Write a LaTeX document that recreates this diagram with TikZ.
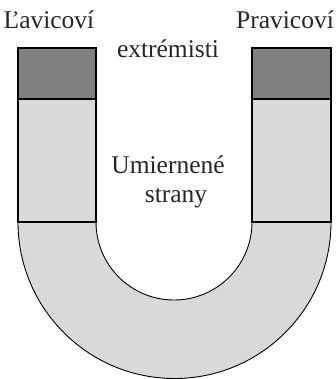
\documentclass[tikz,border=0pt]{standalone}
\usepackage{fontspec}
\setmainfont{Liberation Serif}
\begin{document}
\begin{tikzpicture}[x=1pt,y=-1pt,
  lbl/.style={anchor=base,inner sep=0pt,font=\fontsize{25.5}{30}\selectfont,text=black!85},
  darkbox/.style={fill=black!50,draw=black,line width=1.4pt},
  lightbox/.style={fill=black!15,draw=black,line width=1.4pt},
  ushape/.style={fill=black!15,draw=black,line width=0.9pt}]
\useasboundingbox (0,0) rectangle (335,379);
% U bottom
\draw[ushape] (18,222) arc[start angle=180,end angle=0,radius=156.5] -- (252,222)
  arc[start angle=0,end angle=180,radius=78] -- cycle;
% columns
\draw[lightbox] (18,99) rectangle (96,222);
\draw[darkbox] (18,48) rectangle (96,99);
\draw[lightbox] (252,99) rectangle (331,222);
\draw[darkbox] (252,48) rectangle (331,99);
% labels
\node[lbl] (lav) at (49,29) {Ľavicoví};
\node[lbl] (prav) at (285,29) {Pravicoví};
\node[lbl] (ext) at (168,58) {extrémisti};
\node[lbl] (umi) at (168,173) {Umiernené};
\node[lbl] (str) at (176,202) {strany};
\end{tikzpicture}
\end{document}
